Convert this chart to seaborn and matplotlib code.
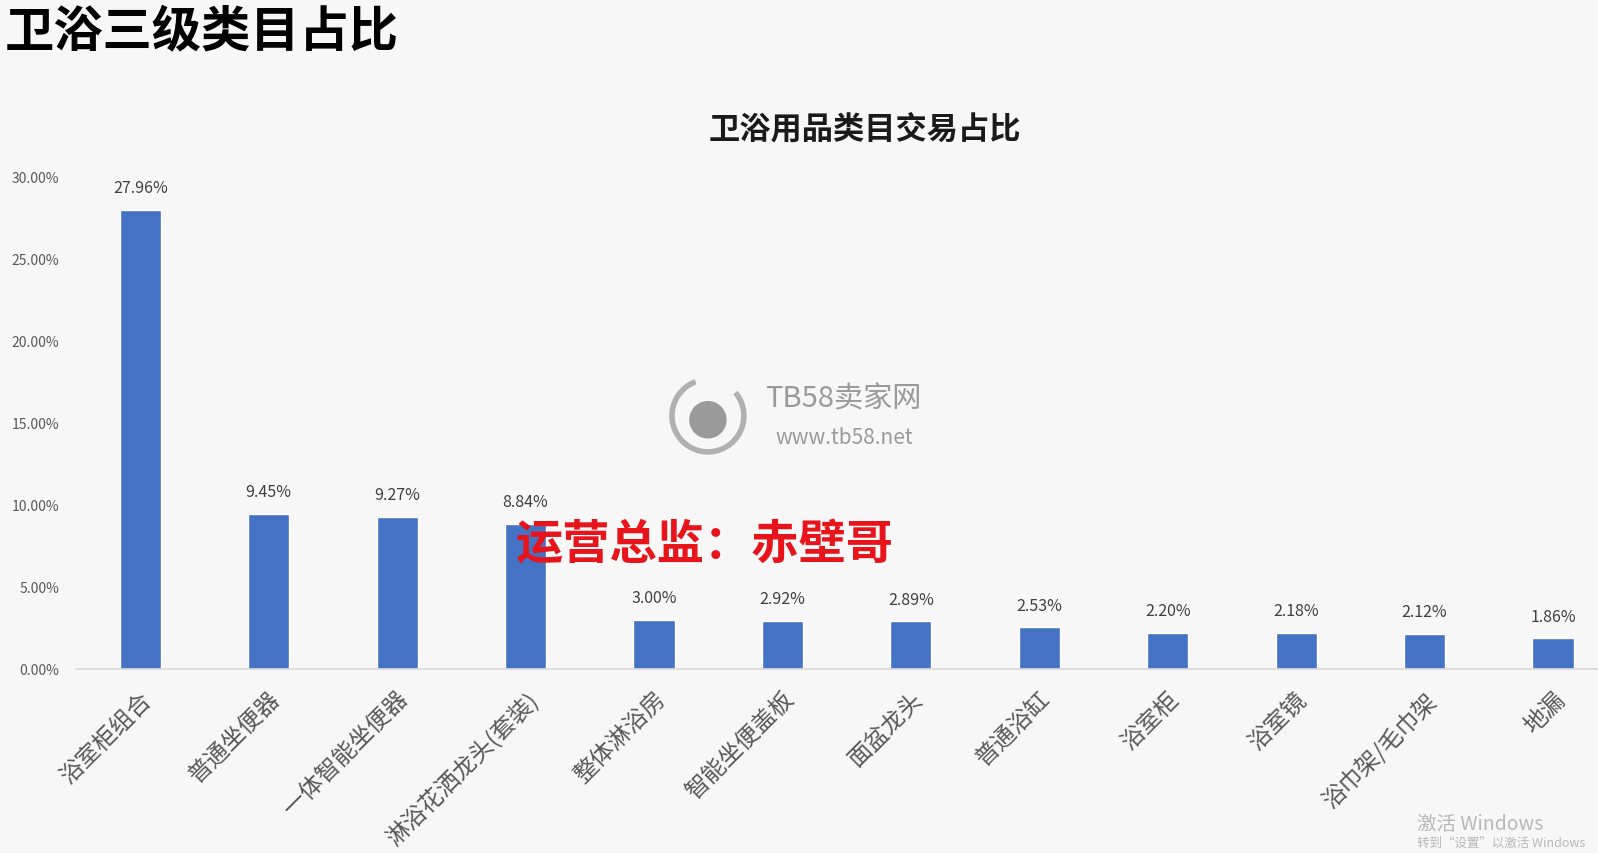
import numpy as np
import pandas as pd
import matplotlib
matplotlib.use("Agg")
import matplotlib.pyplot as plt
from matplotlib.patches import Arc, Circle
import seaborn as sns

## Data
categories = ["浴室柜组合", "普通坐便器", "一体智能坐便器", "淋浴花洒龙头(套装)", "整体淋浴房",
              "智能坐便盖板", "面盆龙头", "普通浴缸", "浴室柜", "浴室镜", "浴巾架/毛巾架", "地漏"]
shares = [27.96, 9.45, 9.27, 8.84, 3.00, 2.92, 2.89, 2.53, 2.20, 2.18, 2.12, 1.86]
yticks = [0, 5, 10, 15, 20, 25, 30]

df = pd.DataFrame({"类目": categories, "占比": shares})

## Style
sns.set_theme(style="white")
plt.rcParams["font.family"] = ["Noto Sans CJK SC", "DejaVu Sans"]
bg = "#f7f7f7"
bar_color = "#4472c4"
tick_color = "#595959"

fig = plt.figure(figsize=(15.98, 8.54), dpi=100)
fig.patch.set_facecolor(bg)
ax = fig.add_axes([0.0476, 0.2155, 0.9524, 0.5772])
ax.set_facecolor(bg)

sns.barplot(data=df, x="类目", y="占比", color=bar_color, width=0.32, saturation=1, ax=ax)

ax.set_ylim(0, 30)
ax.set_xlim(-0.5, 11.35)
ax.set_yticks(yticks)
ax.set_yticklabels([f"{t:.2f}%" for t in yticks], fontsize=10, color=tick_color)
ax.set_xticks(range(len(categories)))
ax.set_xticklabels(categories, rotation=45, ha="right", rotation_mode="anchor",
                   fontsize=17, color=tick_color)
ax.tick_params(axis="x", length=0, pad=13)
ax.tick_params(axis="y", length=0, pad=12)
ax.set_xlabel("")
ax.set_ylabel("")
for side in ["top", "right", "left"]:
    ax.spines[side].set_visible(False)
ax.spines["bottom"].set_color("#d9d9d9")
ax.spines["bottom"].set_linewidth(1.2)

# value labels on top of the bars
ax.bar_label(ax.containers[0], labels=[f"{v:.2f}%" for v in shares],
             padding=10, fontsize=11.5, color="#404040")

## Titles
fig.text(0.003, 0.962, "卫浴三级类目占比", fontsize=35.5, fontweight="bold",
         color="#000000", ha="left", va="center")
fig.text(0.541, 0.848, "卫浴用品类目交易占比", fontsize=22.5, fontweight="bold",
         color="#1a1a1a", ha="center", va="center")

## Watermarks
logo = fig.add_axes([0.418, 0.465, 0.05, 0.094])
logo.set_xlim(-1, 1)
logo.set_ylim(-1, 1)
logo.axis("off")
logo.add_patch(Arc((0, 0), 1.8, 1.8, theta1=110, theta2=400, lw=4, color="#b0b0b0"))
logo.add_patch(Circle((0, -0.1), 0.45, color="#9a9a9a"))
fig.text(0.479, 0.532, "TB58卖家网", fontsize=21, color="#9a9a9a", ha="left", va="center")
fig.text(0.485, 0.487, "www.tb58.net", fontsize=15, color="#9a9a9a", style="italic",
         ha="left", va="center")
fig.text(0.323, 0.361, "运营总监：赤壁哥", fontsize=34, fontweight="black",
         color="#e8141b", ha="left", va="center")
fig.text(0.887, 0.035, "激活 Windows", fontsize=14, color="#b8b8b8", ha="left", va="center")
fig.text(0.887, 0.012, "转到\u201c设置\u201d以激活 Windows", fontsize=9, color="#b8b8b8",
         ha="left", va="center")

fig.savefig("out.png", dpi=100, facecolor=bg)
